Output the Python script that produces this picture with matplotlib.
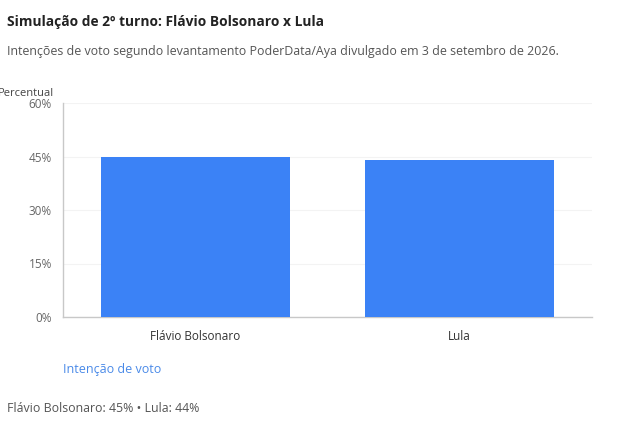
import matplotlib.pyplot as plt

candidatos = ["Flávio Bolsonaro", "Lula"]
votos = [45, 44]
yticks = [0, 15, 30, 45, 60]
ytick_labels = ["0%", "15%", "30%", "45%", "60%"]

plt.rcParams['font.family'] = ['Open Sans', 'DejaVu Sans']

W, H = 618, 425
fig = plt.figure(figsize=(W / 100, H / 100), dpi=100)

# area do grafico em pixels: x 63..592, y 103..317
ax = fig.add_axes([63 / W, 1 - 317 / H, (592 - 63) / W, (317 - 103) / H])
x = range(len(candidatos))
ax.bar(x, votos, width=0.714, color="#3b82f6", zorder=3)
ax.set_xlim(-0.5, 1.5)
ax.set_ylim(0, 60)
ax.set_yticks(yticks)
ax.set_yticklabels(ytick_labels)
ax.set_xticks(list(x))
ax.set_xticklabels(candidatos)
ax.tick_params(axis='y', length=0, pad=8, labelsize=8.5, labelcolor="#666666")
ax.tick_params(axis='x', length=0, pad=9, labelsize=8.5, labelcolor="#333333")
ax.grid(axis='y', color="#f3f3f3", linewidth=0.8, zorder=0)
for s in ["top", "right"]:
    ax.spines[s].set_visible(False)
for s in ["left", "bottom"]:
    ax.spines[s].set_color("#c8c8c8")
    ax.spines[s].set_linewidth(1)

fig.text(54 / W, 1 - 93 / H, "Percentual", ha='right', va='center', fontsize=8, color="#444444")
fig.text(7 / W, 1 - 22 / H, "Simulação de 2º turno: Flávio Bolsonaro x Lula",
         ha='left', va='center', fontsize=9.9, fontweight='bold', color="#222222")
fig.text(7 / W, 1 - 51 / H,
         "Intenções de voto segundo levantamento PoderData/Aya divulgado em 3 de setembro de 2026.",
         ha='left', va='center', fontsize=8.95, color="#555555")
fig.text(63 / W, 1 - 369 / H, "Intenção de voto", ha='left', va='center', fontsize=9, color="#4a8ae8")
fig.text(7 / W, 1 - 408 / H, "Flávio Bolsonaro: 45% • Lula: 44%", ha='left', va='center',
         fontsize=8.9, color="#555555")

fig.savefig("out.png", dpi=100)
